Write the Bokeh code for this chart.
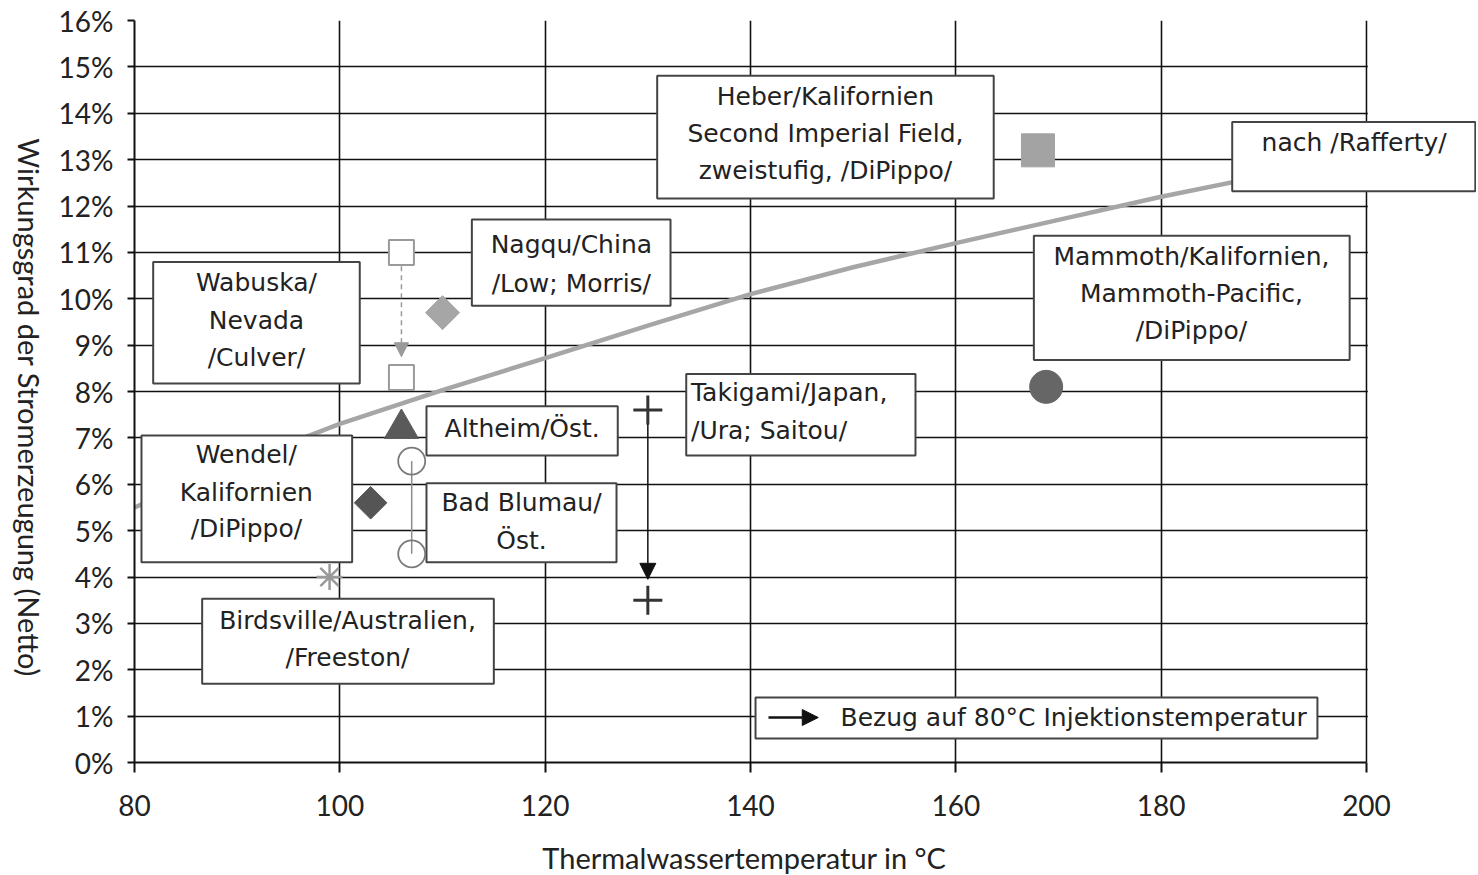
import math
from bokeh.plotting import figure
from bokeh.models import Range1d, FixedTicker, Arrow, NormalHead
from bokeh.layouts import row, column
from bokeh.core.properties import value
from bokeh.embed import file_html
from bokeh.resources import INLINE

FONT = "Lato"
BOXFONT = "DejaVu Sans"
TXT = "#222222"

# ---------------- data ----------------
x_ticks = [80, 100, 120, 140, 160, 180, 200]
y_ticks = list(range(0, 17))
y_tick_labels = {t: f"{t}%" for t in y_ticks}

# curve "nach /Rafferty/"
rafferty_x = [80, 90, 100, 110, 120, 130, 140, 150, 160, 170, 180, 190]
rafferty_y = [5.5, 6.45, 7.3, 8.03, 8.72, 9.42, 10.1, 10.68, 11.2, 11.7, 12.2, 12.65]

wabuska_x = [106, 106]
wabuska_y = [11.0, 8.3]
nagqu_x = [110]
nagqu_y = [9.7]
altheim_x = [106]
altheim_y = [7.2]
blumau_x = [107, 107]
blumau_y = [6.5, 4.5]
wendel_x = [103]
wendel_y = [5.6]
birdsville_x = [99]
birdsville_y = [4.0]
takigami_x = [130, 130]
takigami_y = [7.6, 3.5]
heber_x = [168]
heber_y = [13.2]
mammoth_x = [168.8]
mammoth_y = [8.1]

y_title = "Wirkungsgrad der Stromerzeugung (Netto)"
x_title = "Thermalwassertemperatur in °C"

# ---------------- layout (annotation boxes, data coords) ----------------
boxes = {
    "wabuska": (81.82, 101.94, 8.17, 10.79),
    "wendel": (80.68, 101.2, 4.32, 7.05),
    "altheim": (108.44, 127.07, 6.62, 7.68),
    "blumau": (108.44, 126.95, 4.32, 6.02),
    "takigami": (133.74, 156.07, 6.62, 8.38),
    "heber": (130.91, 163.69, 12.16, 14.81),
    "nagqu": (112.86, 132.21, 9.85, 11.71),
    "rafferty": (186.92, 210.6, 12.32, 13.81),
    "mammoth": (167.6, 198.36, 8.68, 11.36),
    "birdsville": (86.59, 115.0, 1.70, 3.53),
    "legend": (140.49, 195.22, 0.52, 1.40),
}
texts = [
    (91.88, 10.35, "Wabuska/", "center"),
    (91.88, 9.53, "Nevada", "center"),
    (91.88, 8.73, "/Culver/", "center"),
    (90.9, 6.64, "Wendel/", "center"),
    (90.9, 5.82, "Kalifornien", "center"),
    (90.9, 5.05, "/DiPippo/", "center"),
    (117.76, 7.2, "Altheim/Öst.", "center"),
    (117.7, 5.61, "Bad Blumau/", "center"),
    (117.7, 4.79, "Öst.", "center"),
    (134.2, 7.98, "Takigami/Japan,", "left"),
    (134.2, 7.16, "/Ura; Saitou/", "left"),
    (147.3, 14.36, "Heber/Kalifornien", "center"),
    (147.3, 13.56, "Second Imperial Field,", "center"),
    (147.3, 12.77, "zweistufig, /DiPippo/", "center"),
    (122.55, 11.18, "Nagqu/China", "center"),
    (122.55, 10.32, "/Low; Morris/", "center"),
    (198.8, 13.36, "nach /Rafferty/", "center"),
    (182.95, 10.91, "Mammoth/Kalifornien,", "center"),
    (182.95, 10.11, "Mammoth-Pacific,", "center"),
    (182.95, 9.32, "/DiPippo/", "center"),
    (100.75, 3.06, "Birdsville/Australien,", "center"),
    (100.75, 2.26, "/Freeston/", "center"),
    (148.77, 0.97, "Bezug auf 80°C Injektionstemperatur", "left"),
]

YT_W = 48          # width of the strip holding the y title
MAIN_W = 1428
MAIN_H = 830
XT_H = 45
PX_PER_X = 1232 / 120.0
BORDER_L = 134 - YT_W
FRAME_W = MAIN_W - BORDER_L
x_end = 80 + FRAME_W / PX_PER_X

p = figure(width=MAIN_W, height=MAIN_H, output_backend="svg", toolbar_location=None,
           x_range=Range1d(80, x_end), y_range=Range1d(0, 16),
           min_border_left=BORDER_L, min_border_right=0, min_border_top=20,
           min_border_bottom=MAIN_H - 762)
p.outline_line_color = None

# axes
for ax in (p.xaxis[0], p.yaxis[0]):
    ax.axis_line_color = "#111111"
    ax.axis_line_width = 2
    ax.major_tick_line_color = "#111111"
    ax.major_tick_line_width = 2
    ax.major_tick_in = 0
    ax.minor_tick_line_color = None
    ax.major_label_text_font = FONT
    ax.major_label_text_font_size = "28px"
    ax.major_label_text_color = TXT
p.xaxis.ticker = FixedTicker(ticks=x_ticks)
p.xaxis.bounds = (80, 200)
p.xaxis.major_tick_out = 10
p.xaxis.major_label_standoff = 22
p.yaxis.ticker = FixedTicker(ticks=y_ticks)
p.yaxis.major_label_overrides = y_tick_labels
p.yaxis.major_tick_out = 7
p.yaxis.major_label_standoff = 14

p.xgrid.ticker = FixedTicker(ticks=x_ticks)
p.ygrid.ticker = FixedTicker(ticks=y_ticks)
for g in (p.xgrid[0], p.ygrid[0]):
    g.grid_line_color = "#111111"
    g.grid_line_width = 1.6
    g.grid_line_alpha = 1.0

# white cover beyond x=200 (grid lines stop at the 200 line)
p.quad(left=[200.13], right=[x_end + 1], bottom=[-1], top=[17],
       fill_color="white", line_color=None)

# Rafferty curve
p.line(rafferty_x, rafferty_y, line_color="#a6a6a6", line_width=4.5)

# boxes
bl = [b[0] for b in boxes.values()]
br = [b[1] for b in boxes.values()]
bb = [b[2] for b in boxes.values()]
bt = [b[3] for b in boxes.values()]
p.quad(left=bl, right=br, bottom=bb, top=bt, fill_color="white",
       line_color="#444444", line_width=2)

# texts
for align in ("center", "left"):
    sel = [t for t in texts if t[3] == align]
    p.text(x=[t[0] for t in sel], y=[t[1] for t in sel], text=[t[2] for t in sel],
           text_align=align, text_baseline="middle", text_font=value(BOXFONT),
           text_font_size="25px", text_color=TXT)

# connectors / arrows
p.line(blumau_x, blumau_y, line_color="#8c8c8c", line_width=1.5)
p.add_layout(Arrow(end=NormalHead(size=14, fill_color="#9a9a9a", line_color="#9a9a9a"),
                   x_start=wabuska_x[0], y_start=wabuska_y[0] - 0.3,
                   x_end=wabuska_x[1], y_end=wabuska_y[1] + 0.45,
                   line_color="#9a9a9a", line_width=1.5, line_dash="5 4"))
p.add_layout(Arrow(end=NormalHead(size=16, fill_color="#111111", line_color="#111111"),
                   x_start=takigami_x[0], y_start=takigami_y[0] - 0.3,
                   x_end=takigami_x[1], y_end=takigami_y[1] + 0.45,
                   line_color="#111111", line_width=1.5))
p.add_layout(Arrow(end=NormalHead(size=16, fill_color="#111111", line_color="#111111"),
                   x_start=141.75, y_start=0.97, x_end=146.6, y_end=0.97,
                   line_color="#111111", line_width=2.5))

# markers
p.scatter(wabuska_x, wabuska_y, marker="square", size=25, fill_color="white",
          line_color="#9a9a9a", line_width=2)
p.scatter(nagqu_x, nagqu_y, marker="square", angle=math.pi / 4, size=24,
          fill_color="#a6a6a6", line_color="#a6a6a6")
p.scatter(altheim_x, altheim_y, marker="triangle", size=34,
          fill_color="#5a5a5a", line_color="#5a5a5a")
p.scatter(blumau_x, blumau_y, marker="circle", size=27, fill_alpha=0,
          line_color="#7a7a7a", line_width=1.8)
p.scatter(wendel_x, wendel_y, marker="square", angle=math.pi / 4, size=23,
          fill_color="#555555", line_color="#555555")
p.scatter(birdsville_x, birdsville_y, marker="asterisk", size=26,
          line_color="#9a9a9a", line_width=2.5)
p.scatter(takigami_x, takigami_y, marker="cross", size=29,
          line_color="#333333", line_width=3)
p.scatter(heber_x, heber_y, marker="square", size=33,
          fill_color="#a3a3a3", line_color="#a3a3a3")
p.scatter(mammoth_x, mammoth_y, marker="circle", size=33,
          fill_color="#666666", line_color="#666666")

# y title strip (text reads top to bottom)
TOTAL_H = MAIN_H + XT_H
yfig = figure(width=YT_W, height=TOTAL_H, output_backend="svg", toolbar_location=None,
              x_range=Range1d(0, YT_W), y_range=Range1d(0, TOTAL_H), min_border=0,
              x_axis_type=None, y_axis_type=None)
yfig.outline_line_color = None
yfig.grid.visible = False
yfig.text(x=[29], y=[TOTAL_H - 407], text=[y_title], angle=-math.pi / 2,
          text_align="center", text_baseline="middle", text_font=value(FONT),
          text_font_size="29px", text_color=TXT)

# x title strip
xfig = figure(width=MAIN_W, height=XT_H, output_backend="svg", toolbar_location=None,
              x_range=Range1d(0, MAIN_W), y_range=Range1d(0, XT_H), min_border=0,
              x_axis_type=None, y_axis_type=None)
xfig.outline_line_color = None
xfig.grid.visible = False
xfig.text(x=[745 - YT_W - 48], y=[XT_H - (857 - MAIN_H)], text=[x_title],
          text_align="center", text_baseline="middle", text_font=value(FONT),
          text_font_size="29px", text_color=TXT)

layout = row(yfig, column(p, xfig, spacing=0), spacing=0)
open("out.html", "w").write(file_html(layout, INLINE))
